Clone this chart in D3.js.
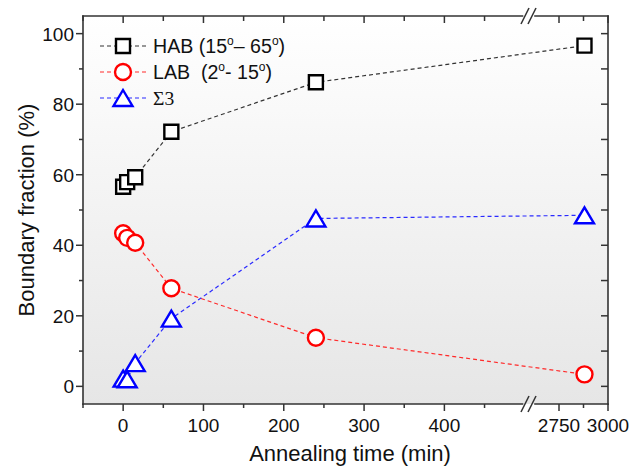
<!DOCTYPE html>
<html>
<head>
<meta charset="utf-8">
<script src="https://cdn.jsdelivr.net/npm/d3@7"></script>
<style>
  html, body { margin: 0; padding: 0; background: #ffffff; }
  svg text { font-family: "Liberation Sans", Arial, sans-serif; fill: #111; }
</style>
</head>
<body>
<svg id="chart" width="633" height="471"></svg>
<script>
// Annealing time (min) for each measurement
const times = [0, 5, 15, 60, 240, 2880];
// Boundary fractions (%)
const hab = [56.6, 57.9, 59.3, 72.2, 86.2, 96.6];
const lab = [43.4, 42.1, 40.7, 27.8, 13.8, 3.4];
const sigma3 = [2.2, 2.0, 6.6, 19.2, 47.6, 48.5];

// Axis ticks
const xMajorLow = [0, 100, 200, 300, 400];
const xMinorLow = [-50, 50, 150, 250, 350, 450];
const xMajorHigh = [2750, 3000];
const xMinorHigh = [2875];
const yMajor = [0, 20, 40, 60, 80, 100];
const yMinor = [10, 30, 50, 70, 90];

const seriesNames = ["HAB", "LAB", "Σ3"];

const svg = d3.select("#chart");
const L = 83, R = 608, T = 16, B = 404;

// Broken x axis: two linear segments
const xLow = d3.scaleLinear().domain([-50, 500]).range([L, 524.7]);
const xHigh = d3.scaleLinear().domain([2600, 3000]).range([529.6, R]);
const x = t => (t <= 500 ? xLow(t) : xHigh(t));
const y = d3.scaleLinear().domain([-5, 105]).range([B, T]);

// Plot background gradient
const defs = svg.append("defs");
const grad = defs.append("linearGradient").attr("id", "bg")
  .attr("x1", 0).attr("y1", 0).attr("x2", 0).attr("y2", 1);
grad.append("stop").attr("offset", "0%").attr("stop-color", "#ffffff");
grad.append("stop").attr("offset", "100%").attr("stop-color", "#e6e6e6");
svg.append("rect").attr("x", L).attr("y", T).attr("width", R - L).attr("height", B - T)
  .attr("fill", "url(#bg)");

const axisColor = "#333";
const g = svg.append("g");

// Frame (with break gap on top and bottom)
const breakL = 522.5, breakR = 535;
const frame = [
  [L, T, L, B], [R, T, R, B],
  [L, T, breakL, T], [breakR, T, R, T],
  [L, B, breakL, B], [breakR, B, R, B]
];
g.selectAll("line.frame").data(frame).join("line").attr("class", "frame")
  .attr("x1", d => d[0]).attr("y1", d => d[1]).attr("x2", d => d[2]).attr("y2", d => d[3])
  .attr("stroke", axisColor).attr("stroke-width", 1.6).attr("stroke-linecap", "square");

// Break marks
[T, B].forEach(yy => {
  [0, 7].forEach(off => {
    g.append("line")
      .attr("x1", 521 + off).attr("y1", yy + 8)
      .attr("x2", 529 + off).attr("y2", yy - 8)
      .attr("stroke", axisColor).attr("stroke-width", 1.5);
  });
});

// X ticks (bottom outward, top inward)
const xMaj = xMajorLow.map(xLow).concat(xMajorHigh.map(xHigh));
const xMin = xMinorLow.map(xLow).concat(xMinorHigh.map(xHigh));
xMaj.forEach(px => {
  g.append("line").attr("x1", px).attr("x2", px).attr("y1", B).attr("y2", B + 7)
    .attr("stroke", axisColor).attr("stroke-width", 1.5);
  g.append("line").attr("x1", px).attr("x2", px).attr("y1", T).attr("y2", T + 7)
    .attr("stroke", axisColor).attr("stroke-width", 1.5);
});
xMin.forEach(px => {
  g.append("line").attr("x1", px).attr("x2", px).attr("y1", B).attr("y2", B + 4)
    .attr("stroke", axisColor).attr("stroke-width", 1.5);
  g.append("line").attr("x1", px).attr("x2", px).attr("y1", T).attr("y2", T + 5)
    .attr("stroke", axisColor).attr("stroke-width", 1.5);
});
const xLabels = xMajorLow.map(v => ({v, px: xLow(v)})).concat(xMajorHigh.map(v => ({v, px: xHigh(v)})));
g.selectAll("text.xt").data(xLabels).join("text").attr("class", "xt")
  .attr("x", d => d.px).attr("y", 432).attr("text-anchor", "middle")
  .attr("font-size", 19).text(d => d.v);

// Y ticks (left outward, right inward)
yMajor.forEach(v => {
  g.append("line").attr("x1", L - 7).attr("x2", L).attr("y1", y(v)).attr("y2", y(v))
    .attr("stroke", axisColor).attr("stroke-width", 1.5);
  g.append("line").attr("x1", R - 7).attr("x2", R).attr("y1", y(v)).attr("y2", y(v))
    .attr("stroke", axisColor).attr("stroke-width", 1.5);
});
yMinor.forEach(v => {
  g.append("line").attr("x1", L - 4).attr("x2", L).attr("y1", y(v)).attr("y2", y(v))
    .attr("stroke", axisColor).attr("stroke-width", 1.5);
  g.append("line").attr("x1", R - 7).attr("x2", R).attr("y1", y(v)).attr("y2", y(v))
    .attr("stroke", axisColor).attr("stroke-width", 1.5);
});
g.selectAll("text.yt").data(yMajor).join("text").attr("class", "yt")
  .attr("x", 74).attr("y", d => y(d) + 7).attr("text-anchor", "end")
  .attr("font-size", 19).text(d => d);

// Axis titles
svg.append("text").attr("x", 350).attr("y", 461).attr("text-anchor", "middle")
  .attr("font-size", 22).text("Annealing time (min)");
svg.append("text").attr("transform", "translate(34,210) rotate(-90)")
  .attr("text-anchor", "middle").attr("font-size", 22).text("Boundary fraction (%)");

// Marker shapes
const markerPath = {
  square: "M-7,-7H7V7H-7Z",
  circle: d3.symbol().type(d3.symbolCircle).size(Math.PI * 8 * 8)(),
  triangle: "M0,-8L9.5,8L-9.5,8Z"
};

const series = [
  {name: seriesNames[0], values: hab, color: "#000000", line: "#333333", shape: "square"},
  {name: seriesNames[1], values: lab, color: "#ff0000", line: "#ff2a2a", shape: "circle"},
  {name: seriesNames[2], values: sigma3, color: "#0000ff", line: "#2a2aff", shape: "triangle"}
];

const line = d3.line().x(d => x(d[0])).y(d => y(d[1]));
const plot = svg.append("g");
series.forEach(s => {
  const pts = times.map((t, i) => [t, s.values[i]]);
  plot.append("path").attr("d", line(pts)).attr("fill", "none")
    .attr("stroke", s.line).attr("stroke-width", 1.2).attr("stroke-dasharray", "4,3");
});
series.forEach(s => {
  const pts = times.map((t, i) => [t, s.values[i]]);
  plot.selectAll(null).data(pts).join("path")
    .attr("transform", d => `translate(${x(d[0])},${y(d[1])})`)
    .attr("d", markerPath[s.shape]).attr("fill", "#ffffff")
    .attr("stroke", s.color).attr("stroke-width", 2.4);
});

// Legend
const legendY = [46, 72, 98];
const leg = svg.append("g");
series.forEach((s, i) => {
  const yy = legendY[i];
  leg.append("line").attr("x1", 100).attr("x2", 146).attr("y1", yy).attr("y2", yy)
    .attr("stroke", s.line).attr("stroke-width", 1.2).attr("stroke-dasharray", "4,3");
  leg.append("path").attr("transform", `translate(123,${yy})`)
    .attr("d", markerPath[s.shape]).attr("fill", "#ffffff")
    .attr("stroke", s.color).attr("stroke-width", 2.4);
});
// Legend labels; "o" parts are drawn as raised degree marks
function legendText(yy, parts, opts) {
  const t = leg.append("text").attr("x", 153).attr("y", yy + 7).attr("font-size", 19.6)
    .attr("xml:space", "preserve").style("white-space", "pre");
  if (opts && opts.serif) t.style("font-family", "'Liberation Serif', 'Times New Roman', serif");
  const base = yy + 7;
  parts.forEach(p => {
    if (p.sup) {
      t.append("tspan").attr("y", base - 8).attr("font-size", 12).text(p.sup);
    } else {
      t.append("tspan").attr("y", base).text(p.t);
    }
  });
}
legendText(legendY[0], [{t: "HAB (15"}, {sup: "o"}, {t: "– 65"}, {sup: "o"}, {t: ")"}]);
legendText(legendY[1], [{t: "LAB  (2"}, {sup: "o"}, {t: "- 15"}, {sup: "o"}, {t: ")"}]);
legendText(legendY[2], [{t: "Σ3"}], {serif: true});
</script>
</body>
</html>
